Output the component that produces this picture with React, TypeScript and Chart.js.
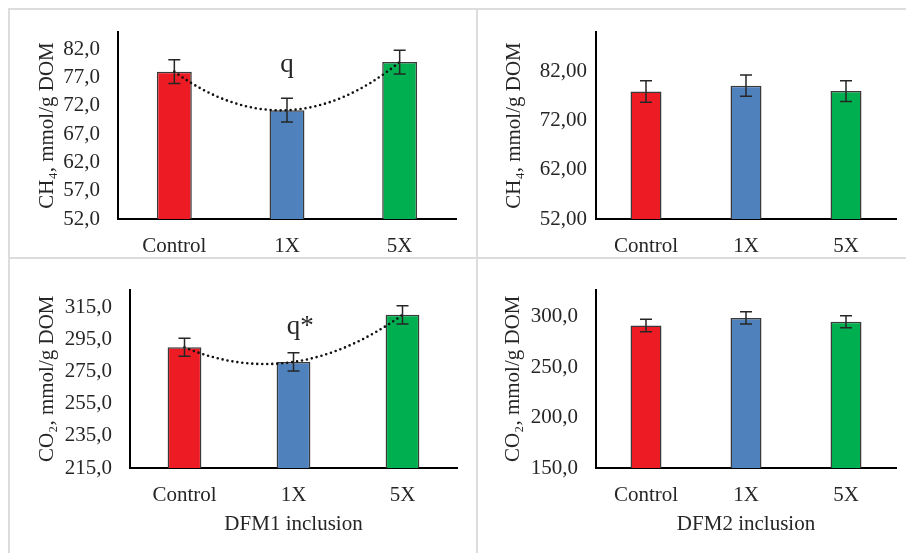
import React, { useEffect, useRef } from "react";
import { Chart, registerables } from "chart.js";
Chart.register(...registerables);

const categories = ["Control", "1X", "5X"];
const barColors = ["#ED1C24", "#4F81BD", "#00B050"];

const ch4Dfm1Values = [78.0, 71.2, 79.7];
const ch4Dfm1Errors = [2.1, 2.1, 2.1];
const ch4Dfm1Ticks = [52, 57, 62, 67, 72, 77, 82];

const ch4Dfm2Values = [77.9, 79.1, 78.0];
const ch4Dfm2Errors = [2.2, 2.15, 2.1];
const ch4Dfm2Ticks = [52, 62, 72, 82];

const co2Dfm1Values = [290.1, 281.0, 310.3];
const co2Dfm1Errors = [5.6, 5.7, 5.7];
const co2Dfm1Ticks = [215, 235, 255, 275, 295, 315];

const co2Dfm2Values = [291.3, 298.9, 295.1];
const co2Dfm2Errors = [6.2, 6.0, 6.0];
const co2Dfm2Ticks = [150, 200, 250, 300];

const FONT = "'Liberation Serif', 'Times New Roman', serif";
const TEXT = "#262626";
const FS = 21;

type PanelCfg = {
  left: number; top: number; width: number; height: number;
  values: number[]; errors: number[]; ticks: number[];
  min: number; max: number; decimals: number;
  yTitle: string; xTitle?: string;
  yWidth: number; xHeight: number; padTop: number; padRight: number;
  yTickPad: number; yTitlePad: number;
  trend: boolean; note?: string; noteValue?: number;
};

const panels: PanelCfg[] = [
  { left: 0, top: 0, width: 460, height: 258, values: ch4Dfm1Values, errors: ch4Dfm1Errors, ticks: ch4Dfm1Ticks,
    min: 52, max: 85, decimals: 1, yTitle: "CH\u2084, mmol/g DOM", yWidth: 118, xHeight: 39, padTop: 32, padRight: 4,
    yTickPad: 18, yTitlePad: 35, trend: true, note: "q", noteValue: 79.2 },
  { left: 478, top: 0, width: 428, height: 258, values: ch4Dfm2Values, errors: ch4Dfm2Errors, ticks: ch4Dfm2Ticks,
    min: 52, max: 90, decimals: 2, yTitle: "CH\u2084, mmol/g DOM", yWidth: 118, xHeight: 39, padTop: 32, padRight: 10,
    yTickPad: 9, yTitlePad: 24, trend: false },
  { left: 0, top: 259, width: 460, height: 294, values: co2Dfm1Values, errors: co2Dfm1Errors, ticks: co2Dfm1Ticks,
    min: 215, max: 326, decimals: 1, yTitle: "CO\u2082, mmol/g DOM", xTitle: "DFM1 inclusion", yWidth: 130, xHeight: 85, padTop: 22, padRight: 3,
    yTickPad: 18, yTitlePad: 35, trend: true, note: "q*", noteValue: 302.8 },
  { left: 478, top: 259, width: 428, height: 294, values: co2Dfm2Values, errors: co2Dfm2Errors, ticks: co2Dfm2Ticks,
    min: 150, max: 327, decimals: 1, yTitle: "CO\u2082, mmol/g DOM", xTitle: "DFM2 inclusion", yWidth: 118, xHeight: 85, padTop: 22, padRight: 10,
    yTickPad: 18, yTitlePad: 23, trend: false },
];

const errorBarPlugin = {
  id: "errorBars",
  afterDatasetsDraw(chart: any, _args: any, opts: any) {
    const errs: number[] = opts.errors || [];
    const y = chart.scales.y;
    const metaIdx = chart.data.datasets.findIndex((d: any) => d.type === "bar" || !d.type);
    const meta = chart.getDatasetMeta(metaIdx);
    const vals = chart.data.datasets[metaIdx].data as number[];
    const ctx = chart.ctx;
    ctx.save();
    ctx.strokeStyle = "#262626";
    ctx.lineWidth = 1.5;
    meta.data.forEach((bar: any, i: number) => {
      const yt = y.getPixelForValue(vals[i] + errs[i]);
      const yb = y.getPixelForValue(vals[i] - errs[i]);
      const x = bar.x;
      ctx.beginPath();
      ctx.moveTo(x, yt); ctx.lineTo(x, yb);
      ctx.moveTo(x - 6, yt); ctx.lineTo(x + 6, yt);
      ctx.moveTo(x - 6, yb); ctx.lineTo(x + 6, yb);
      ctx.stroke();
    });
    ctx.restore();
  },
};

// Makes the line dataset follow the order-2 polynomial trendline through its points
const trendCurvePlugin = {
  id: "trendCurve",
  beforeDatasetDraw(chart: any, args: any) {
    const meta = args.meta;
    if (meta.type !== "line") return;
    meta.dataset.updateControlPoints(chart.chartArea, meta.iScale.axis);
    const pts = meta.data;
    if (pts.length !== 3) return;
    const h = (pts[2].x - pts[0].x) / 2;
    const y0 = pts[0].y, y1 = pts[1].y, y2 = pts[2].y;
    const m = [(-3 * y0 + 4 * y1 - y2) / (2 * h), (y2 - y0) / (2 * h), (y0 - 4 * y1 + 3 * y2) / (2 * h)];
    pts.forEach((p: any, i: number) => {
      p.cp1x = p.x - h / 3; p.cp1y = p.y - (m[i] * h) / 3;
      p.cp2x = p.x + h / 3; p.cp2y = p.y + (m[i] * h) / 3;
    });
  },
};

const notePlugin = {
  id: "note",
  afterDatasetsDraw(chart: any, _args: any, opts: any) {
    if (!opts.text) return;
    const ctx = chart.ctx;
    const x = chart.scales.x.getPixelForValue(opts.index);
    const y = chart.scales.y.getPixelForValue(opts.value);
    ctx.save();
    ctx.font = `27px ${FONT}`;
    ctx.fillStyle = TEXT;
    ctx.textBaseline = "middle";
    ctx.textAlign = "left";
    const qw = ctx.measureText("q").width;
    ctx.fillText(opts.text, x - qw / 2, y);
    ctx.restore();
  },
};

function Panel({ cfg }: { cfg: PanelCfg }) {
  const ref = useRef<HTMLCanvasElement>(null);
  useEffect(() => {
    if (!ref.current) return;
    const datasets: any[] = [
      {
        type: "bar",
        data: cfg.values,
        backgroundColor: barColors,
        borderColor: "#3a3a3a",
        borderWidth: 1.5,
        categoryPercentage: 1,
        barPercentage: 0.31,
        order: 2,
      },
    ];
    if (cfg.trend) {
      datasets.push({
        type: "line",
        data: cfg.values,
        borderColor: "#111",
        borderWidth: 2.6,
        borderDash: [0, 5],
        borderCapStyle: "round",
        tension: 0.4,
        pointRadius: 0,
        fill: false,
        order: 1,
      });
    }
    const chart = new Chart(ref.current, {
      type: "bar",
      data: { labels: categories, datasets },
      plugins: [trendCurvePlugin, errorBarPlugin, notePlugin],
      options: {
        animation: false,
        responsive: false,
        devicePixelRatio: 1,
        layout: { padding: { top: cfg.padTop, right: cfg.padRight, left: 0, bottom: 0 } },
        plugins: {
          legend: { display: false },
          tooltip: { enabled: false },
          errorBars: { errors: cfg.errors },
          note: { text: cfg.note, index: 1, value: cfg.noteValue },
        } as any,
        scales: {
          x: {
            grid: { display: false, drawTicks: false },
            border: { display: true, color: "#000", width: 2 },
            ticks: { font: { family: FONT, size: FS }, color: TEXT, padding: 15, maxRotation: 0, autoSkip: false },
            title: cfg.xTitle
              ? { display: true, text: cfg.xTitle, font: { family: FONT, size: FS }, color: TEXT, padding: { top: 0, bottom: 16 } }
              : { display: false },
            afterFit: (s: any) => { s.height = cfg.xHeight; },
          },
          y: {
            min: cfg.min,
            max: cfg.max,
            grid: { display: false, drawTicks: false },
            border: { display: true, color: "#000", width: 2 },
            ticks: {
              font: { family: FONT, size: FS },
              color: TEXT,
              padding: cfg.yTickPad,
              callback: (v: any) => Number(v).toFixed(cfg.decimals).replace(".", ","),
            },
            afterBuildTicks: (s: any) => { s.ticks = cfg.ticks.map((v) => ({ value: v })); },
            title: { display: true, text: cfg.yTitle, font: { family: FONT, size: FS }, color: TEXT, padding: { top: cfg.yTitlePad, bottom: 0 } },
            afterFit: (s: any) => { s.width = cfg.yWidth; },
          },
        },
      } as any,
    });
    return () => chart.destroy();
  }, [cfg]);
  return (
    <canvas
      ref={ref}
      width={cfg.width}
      height={cfg.height}
      style={{ position: "absolute", left: cfg.left, top: cfg.top, width: cfg.width, height: cfg.height, display: "block" }}
    />
  );
}

const line = (l: number, t: number, w: number, h: number) => (
  <div style={{ position: "absolute", left: l, top: t, width: w, height: h, background: "#dcdcdc" }} />
);

export default function App() {
  return (
    <div style={{ position: "absolute", left: 0, top: 0, width: 906, height: 553, background: "#fff", overflow: "hidden" }}>
      {line(8, 8, 898, 2)}
      {line(8, 8, 2, 545)}
      {line(476, 8, 2, 545)}
      {line(8, 257, 898, 2)}
      {panels.map((p, i) => (
        <Panel key={i} cfg={p} />
      ))}
    </div>
  );
}
